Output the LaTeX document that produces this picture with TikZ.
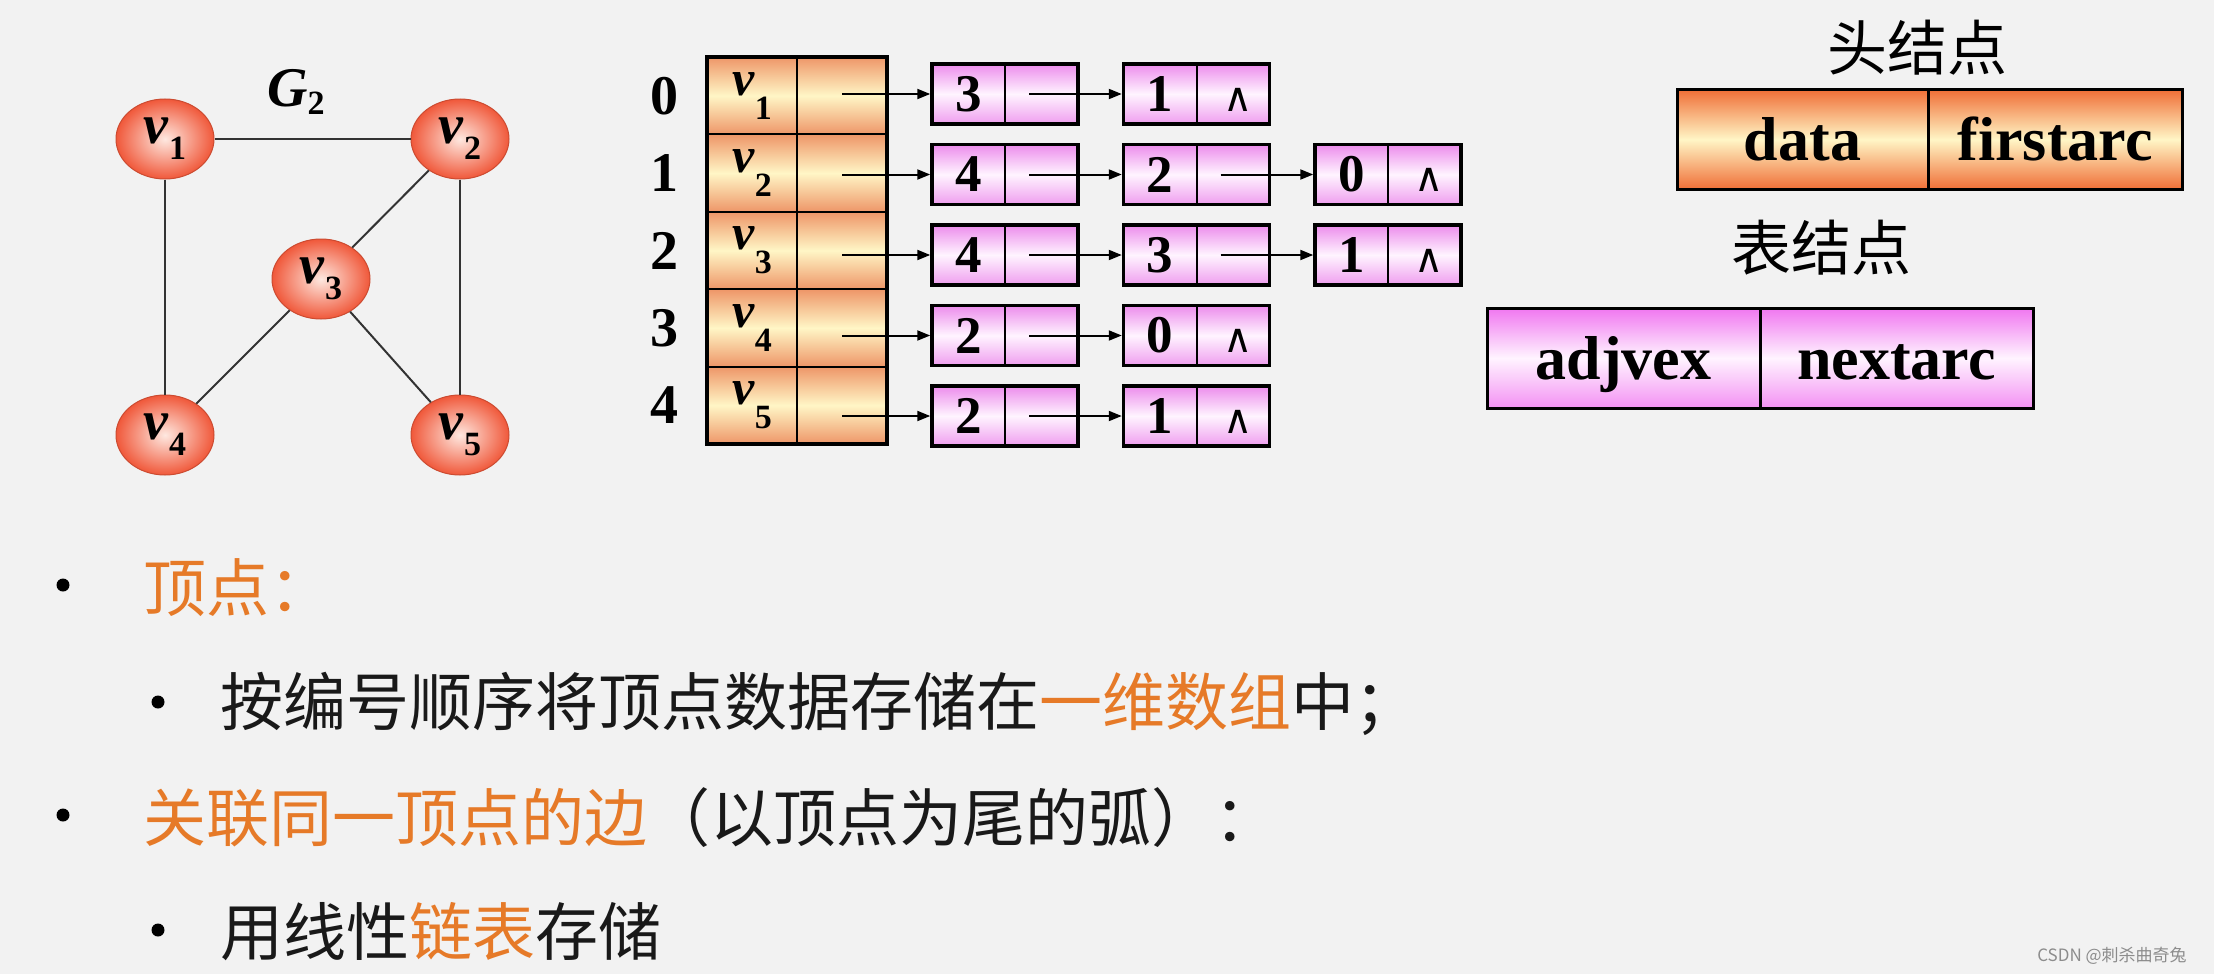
\documentclass[tikz,border=0pt]{standalone}
\usepackage{fontspec}
\setmainfont{Liberation Serif}
\newfontfamily\cjk{Noto Sans CJK SC}
\newfontfamily\symfont{DejaVu Sans}
\usetikzlibrary{arrows.meta, positioning, shapes.geometric}
\definecolor{bggray}{RGB}{242, 242, 242}
\definecolor{vtxred}{RGB}{240, 88, 58}
\definecolor{vtxlight}{RGB}{254, 232, 224}
\definecolor{headtop}{RGB}{240, 110, 54}
\definecolor{headmid}{RGB}{255, 246, 198}
\definecolor{celltop}{RGB}{238, 150, 104}
\definecolor{pinktop}{RGB}{236, 140, 236}
\definecolor{pinkdeep}{RGB}{240, 118, 240}
\definecolor{pinkmid}{RGB}{255, 244, 255}
\definecolor{txtorange}{RGB}{230, 122, 40}
\newcommand{\vsub}[2][-16pt]{\textbf{\textit{v}}\raisebox{#1}{\fontsize{34}{34}\selectfont\textbf{#2}}}
\newcommand{\nilmark}{\hspace{10pt}{\symfont\mdseries\fontsize{40}{40}\selectfont ∧}}

\begin{document}
\begin{tikzpicture}[x=1pt, y=-1pt,
    vtx/.style={ellipse, draw=vtxred!85!black, line width=1pt, minimum width=98pt,
                minimum height=80pt, inner color=vtxlight, outer color=vtxred,
                font=\fontsize{56}{56}\selectfont},
    edge/.style={line width=2pt, black!80},
    cell/.style={draw, line width=2pt, outer sep=0pt, inner sep=0pt, minimum width=90pt,
                 minimum height=77.4pt, top color=celltop, bottom color=celltop,
                 middle color=headmid, font=\fontsize{50}{50}\selectfont},
    idx/.style={inner sep=0pt, font=\fontsize{56}{56}\selectfont\bfseries},
    lnode/.style={draw, line width=3.5pt, inner sep=0pt, minimum width=146pt, minimum height=60pt,
                  top color=pinktop, bottom color=pinktop!85!white, middle color=pinkmid,
                  font=\fontsize{53}{53}\selectfont\bfseries,
                  path picture={\draw[line width=2pt] (path picture bounding box.north)
                                -- (path picture bounding box.south);}},
    field/.style={draw, line width=3pt, outer sep=0pt, inner sep=0pt, minimum height=100pt,
                  text height=44pt, text depth=2pt, font=\fontsize{62}{62}\selectfont\bfseries},
    headf/.style={field, top color=headtop, bottom color=headtop, middle color=headmid},
    tablef/.style={field, top color=pinkdeep, bottom color=pinkdeep!80!white, middle color=pinkmid},
    arr/.style={-{Stealth[length=13pt, width=10pt, inset=0pt]}, line width=2pt},
    bullet/.style={circle, fill=black, inner sep=0pt, minimum size=13pt},
    line/.style={anchor=base west, inner sep=0pt, text=black!90, font=\cjk\fontsize{63}{63}\selectfont}
  ]
    \fill[bggray] (0,0) rectangle (2214,974);

    \node[font=\fontsize{56}{56}\selectfont] (g2) at (296,92)
      {\textbf{\textit{G}}\raisebox{-8pt}{\fontsize{34}{34}\selectfont\textbf{2}}};
    \node[vtx] (v1) at (165,139) {\vsub{1}\hspace{16pt}};
    \node[vtx] (v2) at (460,139) {\vsub{2}\hspace{16pt}};
    \node[vtx] (v3) at (321,279) {\vsub{3}\hspace{16pt}};
    \node[vtx] (v4) at (165,435) {\vsub{4}\hspace{16pt}};
    \node[vtx] (v5) at (460,435) {\vsub{5}\hspace{16pt}};
    \draw[edge] (v1) -- (v2);
    \draw[edge] (v1) -- (v4);
    \draw[edge] (v2) -- (v3);
    \draw[edge] (v2) -- (v5);
    \draw[edge] (v3) -- (v4);
    \draw[edge] (v3) -- (v5);

    \node[cell] (d0) at (752,95.7) {\vsub[-24pt]{1}};
    \node[cell, right=0pt of d0] (p0) {};
    \node[cell, below=0pt of d0] (d1) {\vsub[-24pt]{2}};
    \node[cell, right=0pt of d1] (p1) {};
    \node[cell, below=0pt of d1] (d2) {\vsub[-24pt]{3}};
    \node[cell, right=0pt of d2] (p2) {};
    \node[cell, below=0pt of d2] (d3) {\vsub[-24pt]{4}};
    \node[cell, right=0pt of d3] (p3) {};
    \node[cell, below=0pt of d3] (d4) {\vsub[-24pt]{5}};
    \node[cell, right=0pt of d4] (p4) {};
    \draw[line width=4pt] (d0.north west) rectangle (p4.south east);
    \node[idx, left=28pt of d0] (i0) {0};
    \node[idx, left=28pt of d1] (i1) {1};
    \node[idx, left=28pt of d2] (i2) {2};
    \node[idx, left=28pt of d3] (i3) {3};
    \node[idx, left=28pt of d4] (i4) {4};

    \node[lnode] (b00) at (1005,94) {\makebox[73pt]{3}\makebox[73pt]{}};
    \node[lnode, right=42pt of b00] (b01) {\makebox[73pt]{1}\makebox[73pt]{\nilmark}};
    \node[lnode, below=17pt of b00] (b10) {\makebox[73pt]{4}\makebox[73pt]{}};
    \node[lnode, right=42pt of b10] (b11) {\makebox[73pt]{2}\makebox[73pt]{}};
    \node[lnode, right=42pt of b11] (b12) {\makebox[73pt]{0}\makebox[73pt]{\nilmark}};
    \node[lnode, below=17pt of b10] (b20) {\makebox[73pt]{4}\makebox[73pt]{}};
    \node[lnode, right=42pt of b20] (b21) {\makebox[73pt]{3}\makebox[73pt]{}};
    \node[lnode, right=42pt of b21] (b22) {\makebox[73pt]{1}\makebox[73pt]{\nilmark}};
    \node[lnode, below=17pt of b20] (b30) {\makebox[73pt]{2}\makebox[73pt]{}};
    \node[lnode, right=42pt of b30] (b31) {\makebox[73pt]{0}\makebox[73pt]{\nilmark}};
    \node[lnode, below=17pt of b30] (b40) {\makebox[73pt]{2}\makebox[73pt]{}};
    \node[lnode, right=42pt of b40] (b41) {\makebox[73pt]{1}\makebox[73pt]{\nilmark}};

    \draw[arr] (p0 |- b00) -- (b00);
    \draw[arr] (p1 |- b10) -- (b10);
    \draw[arr] (p2 |- b20) -- (b20);
    \draw[arr] (p3 |- b30) -- (b30);
    \draw[arr] (p4 |- b40) -- (b40);
    \draw[arr] ([xshift=24pt]b00.center) -- (b01);
    \draw[arr] ([xshift=24pt]b10.center) -- (b11);
    \draw[arr] ([xshift=24pt]b11.center) -- (b12);
    \draw[arr] ([xshift=24pt]b20.center) -- (b21);
    \draw[arr] ([xshift=24pt]b21.center) -- (b22);
    \draw[arr] ([xshift=24pt]b30.center) -- (b31);
    \draw[arr] ([xshift=24pt]b40.center) -- (b41);

    \node[font=\cjk\fontsize{60}{60}\selectfont] (headlbl) at (1917,48) {头结点};
    \node[headf, minimum width=251pt] (hdata) at (1802.5,139.5) {data};
    \node[headf, minimum width=254pt, right=0pt of hdata] (hfirst) {firstarc};
    \node[font=\cjk\fontsize{60}{60}\selectfont] (tablelbl) at (1821,248) {表结点};
    \node[tablef, minimum width=273pt] (tadj) at (1623.5,358) {adjvex};
    \node[tablef, minimum width=273pt, right=0pt of tadj] (tnext) {nextarc};

    \node[bullet] (bu1) at (63,585) {};
    \node[bullet] (bu2) at (158,702) {};
    \node[bullet] (bu3) at (63,815) {};
    \node[bullet] (bu4) at (158,930) {};
    \node[line] (t1) at (143,611) {\color{txtorange}顶点：};
    \node[line] (t2) at (220,725) {按编号顺序将顶点数据存储在{\color{txtorange}一维数组}中；};
    \node[line] (t3) at (143,841) {{\color{txtorange}关联同一顶点的边}（以顶点为尾的弧）：};
    \node[line] (t4) at (220,955) {用线性{\color{txtorange}链表}存储};

    \node[font=\cjk\fontsize{17}{17}\selectfont, text=black!45] (wm) at (2112,956) {CSDN @刺杀曲奇兔};
  \end{tikzpicture}
\end{document}
